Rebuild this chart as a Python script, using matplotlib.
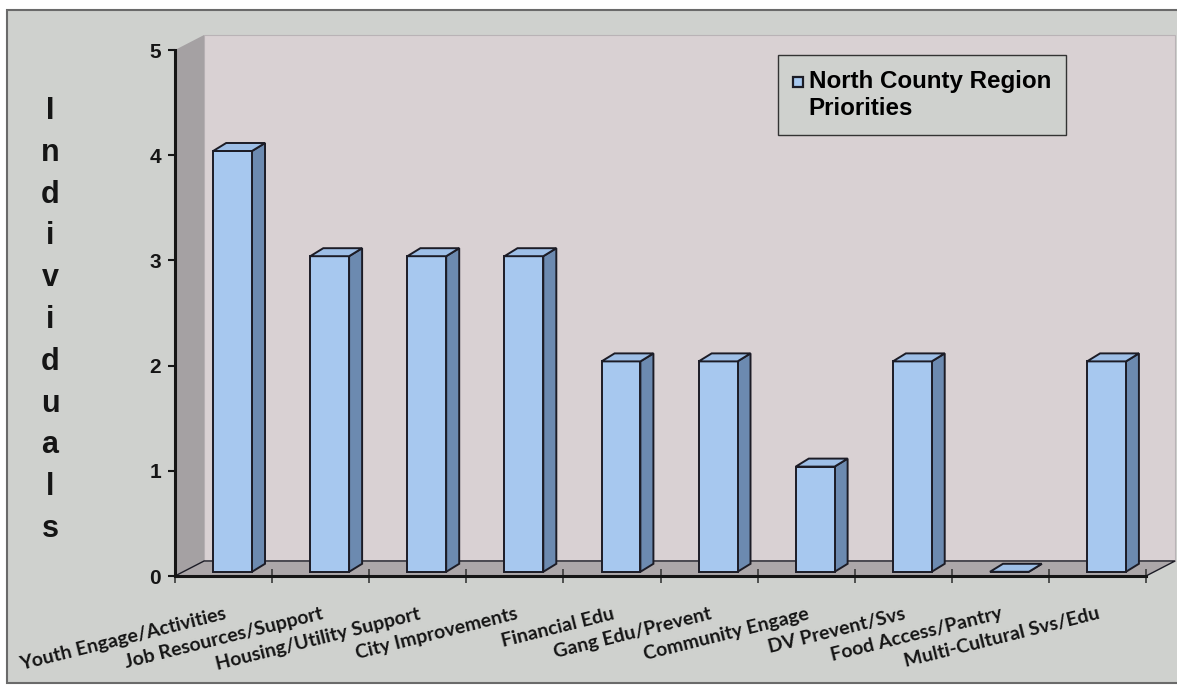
import matplotlib
matplotlib.use("Agg")
import matplotlib.pyplot as plt
from matplotlib.patches import Polygon, Rectangle
from matplotlib.legend_handler import HandlerPatch
import numpy as np

# ---- data -------------------------------------------------------------
categories = [
    "Youth Engage/Activities", "Job Resources/Support", "Housing/Utility Support",
    "City Improvements", "Financial Edu", "Gang Edu/Prevent", "Community Engage",
    "DV Prevent/Svs", "Food Access/Pantry", "Multi-Cultural Svs/Edu",
]
counts = [4, 3, 3, 3, 2, 2, 1, 2, 0, 2]
series_name = "North County Region\nPriorities"
y_ticks = [0, 1, 2, 3, 4, 5]
y_title = "Individuals"

# ---- style ------------------------------------------------------------
PAGE = "#cfd1ce"
BACK_WALL = "#d9d1d3"
SIDE_WALL = "#a5a1a3"
FLOOR = "#aca7a9"
FRONT = "#a7c8ef"
SIDE = "#6c8ab0"
TOP = "#9ebfe7"
EDGE = "#1c1c26"
INK = "#151515"

W, H = 1177, 686
fig = plt.figure(figsize=(W / 100, H / 100), dpi=100)
fig.patch.set_facecolor("white")

# scanned page panel with its border
page = Rectangle((7 / W, 1 - 683 / H), 1.2, (683 - 10) / H,
                 transform=fig.transFigure, facecolor=PAGE,
                 edgecolor="#6a6a6a", linewidth=1.5, zorder=-10)
fig.add_artist(page)

ax = fig.add_axes([175 / W, 1 - 576 / H, 971 / W, 526 / H])
ax.set_facecolor("none")
ax.set_xlim(-0.5, len(categories) - 0.5)
ax.set_ylim(0, 5)

# 3-D box: wall depth and bar depth in data units
DX, DY = 0.30, 0.143
FX, FY = 0.093, 0.040
BW = 0.40
BX, BY = 0.134, 0.076
x0, x1 = -0.5, len(categories) - 0.5

ax.add_patch(Polygon([(x0 + DX, DY), (x1 + DX, DY), (x1 + DX, 5 + DY), (x0 + DX, 5 + DY)],
                     closed=True, facecolor=BACK_WALL, edgecolor="#b9b3b6",
                     linewidth=0.8, clip_on=False, zorder=0.5))
ax.add_patch(Polygon([(x0, 0), (x0 + DX, DY), (x0 + DX, 5 + DY), (x0, 5)],
                     closed=True, facecolor=SIDE_WALL, edgecolor="none",
                     clip_on=False, zorder=0.6))
ax.add_patch(Polygon([(x0, 0), (x1, 0), (x1 + DX, DY), (x0 + DX, DY)],
                     closed=True, facecolor=FLOOR, edgecolor=EDGE,
                     linewidth=1.0, clip_on=False, zorder=0.7))

# bars: front faces, then side and top faces
x = np.arange(len(categories))
bars = ax.bar(x + FX, counts, width=BW, bottom=FY, color=FRONT,
              edgecolor=EDGE, linewidth=1.4, zorder=4, label=series_name)
for rect in bars:
    bx0 = rect.get_x()
    bx1 = bx0 + rect.get_width()
    by0 = rect.get_y()
    by1 = by0 + rect.get_height()
    ax.add_patch(Polygon([(bx1, by0), (bx1 + BX, by0 + BY), (bx1 + BX, by1 + BY), (bx1, by1)],
                         closed=True, facecolor=SIDE, edgecolor=EDGE,
                         linewidth=1.4, zorder=3.9))
    ax.add_patch(Polygon([(bx0, by1), (bx1, by1), (bx1 + BX, by1 + BY), (bx0 + BX, by1 + BY)],
                         closed=True, facecolor=TOP, edgecolor=EDGE,
                         linewidth=1.4, zorder=4.1))

# axes lines and ticks
for s in ("top", "right"):
    ax.spines[s].set_visible(False)
for s in ("left", "bottom"):
    ax.spines[s].set_linewidth(2.2)
    ax.spines[s].set_color(INK)
    ax.spines[s].set_zorder(5)

ax.set_yticks(y_ticks)
ax.set_yticklabels([str(t) for t in y_ticks], fontfamily="Liberation Sans",
                   fontweight="bold", fontsize=15, color=INK)
ax.tick_params(axis="y", which="major", direction="out", length=5,
               width=1.5, pad=5, colors=INK)

ax.set_xticks(x)
ax.set_xticklabels(categories, rotation=14, ha="right", rotation_mode="anchor",
                   fontfamily="Lato", fontweight="bold", fontsize=14.0, color=INK)
ax.tick_params(axis="x", which="major", length=0, pad=21)
ax.set_xticks(np.arange(len(categories) + 1) - 0.5, minor=True)
ax.tick_params(axis="x", which="minor", direction="inout", length=10,
               width=1.2, color="#3a3a3a")

# vertical axis title, one letter per row
for k, ch in enumerate(y_title):
    fig.text(50 / W, 1 - (119 + 41.8 * k) / H, ch, ha="center", va="baseline",
             fontfamily="Liberation Sans", fontweight="bold", fontsize=22, color=INK)


# legend with the swatch beside the first text line
def top_square(legend, orig_handle, xdescent, ydescent, width, height, fontsize):
    size = 0.42 * fontsize
    return Rectangle((-xdescent, -ydescent + 0.62 * fontsize), size, size)


swatch = Rectangle((0, 0), 1, 1, facecolor=FRONT, edgecolor=EDGE, linewidth=1.6,
                   label=series_name)
leg = ax.legend(handles=[swatch], loc="upper left",
                bbox_to_anchor=(778 / W, 1 - 55 / H), bbox_transform=fig.transFigure,
                borderaxespad=0,
                handler_map={Rectangle: HandlerPatch(patch_func=top_square)},
                prop={"family": "Liberation Sans", "weight": "bold", "size": 17.4},
                frameon=True, fancybox=False, framealpha=1, facecolor=PAGE,
                edgecolor="#333333", borderpad=0.62, handlelength=0.45,
                handleheight=0.45, handletextpad=0.2, labelspacing=0.3)
leg.get_frame().set_linewidth(1.0)
leg.set_zorder(6)

fig.savefig("out.png", dpi=100, facecolor=fig.get_facecolor())
